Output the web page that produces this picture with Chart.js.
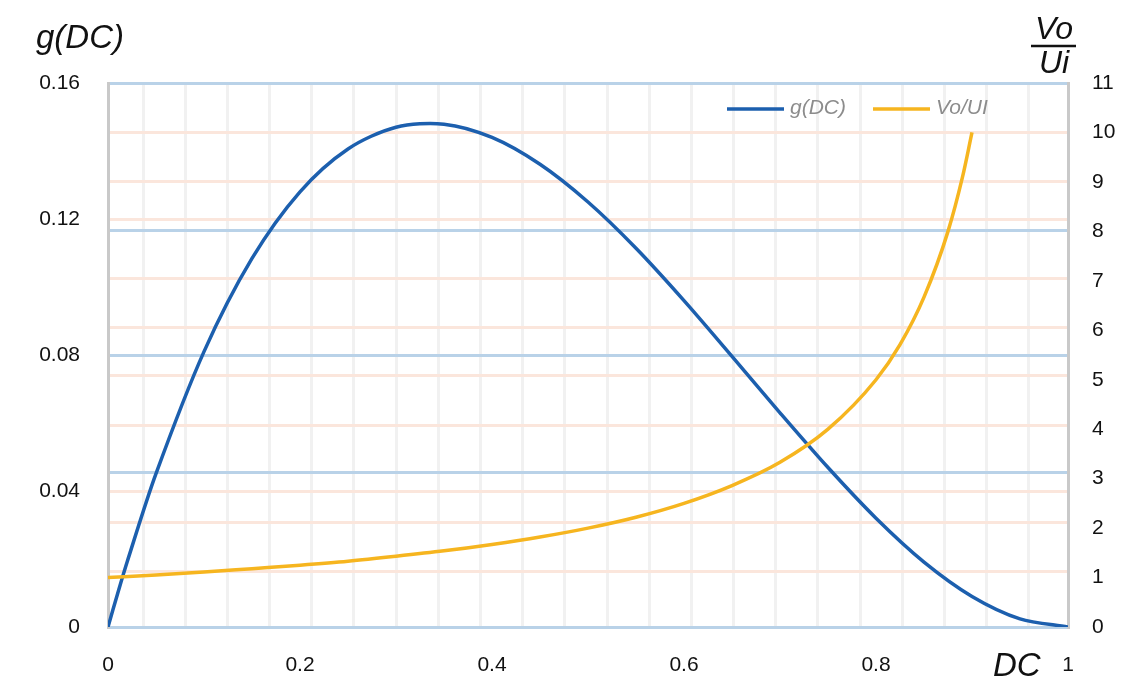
<!DOCTYPE html>
<html>
<head>
<meta charset="utf-8">
<script src="https://cdn.jsdelivr.net/npm/chart.js@4/dist/chart.umd.min.js"></script>
<style>
  html, body { margin: 0; padding: 0; background: #fff; }
</style>
</head>
<body>
<canvas id="chart" width="1148" height="689"></canvas>
<script>
// g(DC) curve
const dcG = [0, 0.01, 0.02, 0.05, 0.1, 0.15, 0.2, 0.25, 0.3, 0.35, 0.4, 0.45, 0.5, 0.55, 0.6, 0.65, 0.7, 0.75, 0.8, 0.85, 0.9, 0.95, 1];
const gValues = [0, 0.0098, 0.0192, 0.0451, 0.081, 0.1084, 0.128, 0.1406, 0.147, 0.1479, 0.144, 0.1361, 0.125, 0.1114, 0.096, 0.0796, 0.063, 0.0469, 0.032, 0.0191, 0.009, 0.0024, 0];

// Vo/Ui curve (right axis)
const dcV = [0, 0.05, 0.1, 0.15, 0.2, 0.25, 0.3, 0.35, 0.4, 0.45, 0.5, 0.55, 0.6, 0.65, 0.7, 0.75, 0.8, 0.825, 0.85, 0.875, 0.89, 0.9];
const vValues = [1, 1.05, 1.11, 1.18, 1.25, 1.33, 1.43, 1.54, 1.67, 1.82, 2, 2.22, 2.5, 2.86, 3.33, 4, 5, 5.71, 6.67, 8, 9.09, 10];

const xLabels = [0, 0.2, 0.4, 0.6, 0.8, 1];
const leftLabels = [0, 0.04, 0.08, 0.12, 0.16];
const rightLabels = [0, 1, 2, 3, 4, 5, 6, 7, 8, 9, 10, 11];

const BLUE = "#1c5fae";
const ORANGE = "#f6b51f";
const GRID_BLUE = "#b9d2e8";
const GRID_PEACH = "#fbe6dc";
const GRID_GRAY = "#f1f1f1";
const AXIS_GRAY = "#c9c9c9";
const FONT = '"Liberation Sans", Arial, sans-serif';

// gridlines that don't sit on a labelled tick (the source has them slightly off)
const xGrid = Array.from({ length: 22 }, (_, k) => 0.0365 + k * 0.04394);
const leftBlueGrid = [0.0455, 0.1165];
const rightPeachGrid = [1.13, 2.12, 4.08, 5.08, 6.05, 7.04];

const near = (a, b) => Math.abs(a - b) < 1e-6;
const isIn = (arr, v) => arr.some(a => near(a, v));
const toTicks = vals => vals.slice().sort((a, b) => a - b).map(v => ({ value: v }));

const titles = {
  id: "titles",
  afterDraw(chart) {
    const ctx = chart.ctx;
    const area = chart.chartArea;
    ctx.save();
    ctx.fillStyle = "#111";
    ctx.textBaseline = "alphabetic";

    ctx.font = "italic 33px " + FONT;
    ctx.textAlign = "left";
    ctx.fillText("g(DC)", 36, 48);

    ctx.font = "italic 33px " + FONT;
    ctx.fillText("DC", 993, 676);

    ctx.font = "italic 32px " + FONT;
    ctx.textAlign = "center";
    ctx.fillText("Vo", 1054, 39);
    ctx.fillText("Ui", 1054, 73);
    ctx.strokeStyle = "#111";
    ctx.lineWidth = 2.5;
    ctx.beginPath();
    ctx.moveTo(1031, 46);
    ctx.lineTo(1076, 46);
    ctx.stroke();

    // legend
    const ly = area.top + 26;
    let lx = area.right - 341;
    ctx.font = "italic 21px " + FONT;
    ctx.textAlign = "left";
    ctx.textBaseline = "middle";
    chart.data.datasets.forEach(ds => {
      ctx.strokeStyle = ds.borderColor;
      ctx.lineWidth = 3.5;
      ctx.beginPath();
      ctx.moveTo(lx, ly);
      ctx.lineTo(lx + 57, ly);
      ctx.stroke();
      ctx.fillStyle = "#8c8c8c";
      ctx.fillText(ds.label, lx + 63, ly - 1);
      lx += 146;
    });
    ctx.restore();
  }
};

new Chart(document.getElementById("chart"), {
  type: "line",
  data: {
    datasets: [
      {
        label: "g(DC)",
        data: dcG.map((x, i) => ({ x, y: gValues[i] })),
        yAxisID: "y",
        borderColor: BLUE,
        borderWidth: 3.5,
        pointRadius: 0,
        tension: 0.3,
        order: 1
      },
      {
        label: "Vo/UI",
        data: dcV.map((x, i) => ({ x, y: vValues[i] })),
        yAxisID: "y1",
        borderColor: ORANGE,
        borderWidth: 3.5,
        pointRadius: 0,
        cubicInterpolationMode: "monotone",
        order: 0
      }
    ]
  },
  options: {
    responsive: false,
    animation: false,
    layout: { padding: { top: 83, left: 0, right: 0, bottom: 0 } },
    plugins: { legend: { display: false }, tooltip: { enabled: false } },
    scales: {
      x: {
        type: "linear",
        min: 0,
        max: 1,
        afterBuildTicks: s => { s.ticks = toTicks(xLabels.concat(xGrid)); },
        afterFit: s => { s.height = 62; },
        border: { color: GRID_BLUE, width: 3 },
        grid: {
          drawTicks: false,
          lineWidth: 3,
          color: c => (c.tick && isIn(xLabels, c.tick.value)) ? "transparent" : GRID_GRAY
        },
        ticks: {
          autoSkip: false,
          maxRotation: 0,
          padding: 26,
          color: "#111",
          font: { family: FONT, size: 21 },
          callback: v => isIn(xLabels, v) ? String(v) : ""
        }
      },
      y: {
        position: "left",
        min: 0,
        max: 0.16,
        afterBuildTicks: s => { s.ticks = toTicks(leftLabels.concat(leftBlueGrid)); },
        afterFit: s => { s.width = 108; },
        border: { color: AXIS_GRAY, width: 3 },
        grid: {
          drawTicks: false,
          lineWidth: 3,
          color: c => {
            const v = c.tick ? c.tick.value : 0;
            return (near(v, 0.04) || near(v, 0.12)) ? GRID_PEACH : GRID_BLUE;
          }
        },
        ticks: {
          autoSkip: false,
          padding: 28,
          color: "#111",
          font: { family: FONT, size: 21 },
          callback: v => isIn(leftLabels, v) ? (v === 0 ? "0" : v.toFixed(2)) : ""
        }
      },
      y1: {
        position: "right",
        min: 0,
        max: 11,
        afterBuildTicks: s => { s.ticks = toTicks(rightLabels.concat(rightPeachGrid)); },
        afterFit: s => { s.width = 80; },
        border: { color: AXIS_GRAY, width: 3 },
        grid: {
          drawTicks: false,
          lineWidth: 3,
          color: c => {
            const v = c.tick ? c.tick.value : 0;
            return (isIn(rightPeachGrid, v) || near(v, 9) || near(v, 10)) ? GRID_PEACH : "transparent";
          }
        },
        ticks: {
          autoSkip: false,
          padding: 24,
          color: "#111",
          font: { family: FONT, size: 21 },
          callback: v => isIn(rightLabels, v) ? String(v) : ""
        }
      }
    }
  },
  plugins: [titles]
});
</script>
</body>
</html>
